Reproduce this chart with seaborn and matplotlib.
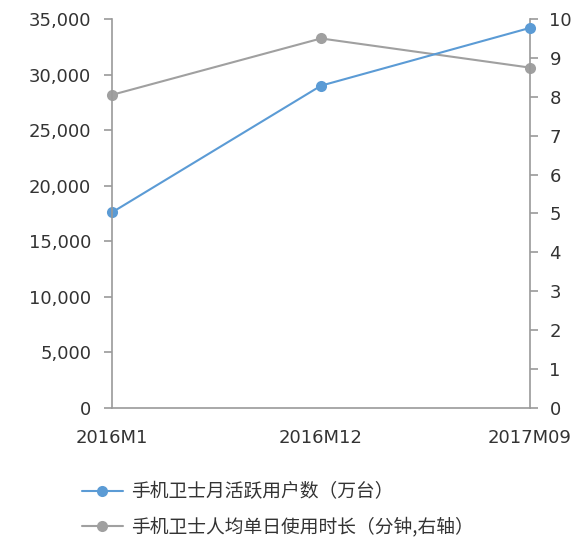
import matplotlib
matplotlib.use("Agg")
import matplotlib.pyplot as plt
import seaborn as sns
import pandas as pd
from matplotlib.ticker import FuncFormatter, MultipleLocator

# Data
periods = ["2016M1", "2016M12", "2017M09"]
active_users = [17600, 29000, 34200]      # 万台
daily_minutes = [8.05, 9.5, 8.75]         # 分钟
label_users = "手机卫士月活跃用户数（万台）"
label_minutes = "手机卫士人均单日使用时长（分钟,右轴）"

BLUE = "#5B9BD5"
GRAY = "#A0A0A0"
SPINE = "#9A9A9A"
TEXT = "#333333"

sns.set_theme(style="white")
plt.rcParams["font.family"] = ["Noto Sans CJK SC", "DejaVu Sans"]

df = pd.DataFrame({"pos": range(len(periods)), "period": periods,
                   "users": active_users, "minutes": daily_minutes})

W, H = 577, 541
fig = plt.figure(figsize=(W / 100, H / 100), dpi=100)
ax = fig.add_axes([112 / W, 1 - 408 / H, (530 - 112) / W, (408 - 19) / H])
ax2 = ax.twinx()

sns.lineplot(data=df, x="pos", y="users", ax=ax, color=BLUE, linewidth=1.5,
             marker="o", markersize=8, markeredgewidth=0, label=label_users,
             legend=False)
sns.lineplot(data=df, x="pos", y="minutes", ax=ax2, color=GRAY, linewidth=1.5,
             marker="o", markersize=8, markeredgewidth=0, label=label_minutes,
             legend=False)
for ln in ax.lines + ax2.lines:
    ln.set_clip_on(False)
ax.set_zorder(ax2.get_zorder() + 1)
ax.patch.set_visible(False)

ax.set_xlim(0, len(periods) - 1)
ax.set_ylim(0, 35000)
ax2.set_ylim(0, 10)
ax.yaxis.set_major_locator(MultipleLocator(5000))
ax2.yaxis.set_major_locator(MultipleLocator(1))
ax.yaxis.set_major_formatter(FuncFormatter(lambda v, p: f"{int(v):,}"))
ax.set_xticks(df["pos"])
ax.set_xticklabels(periods)
ax.set_xlabel("")
ax.set_ylabel("")
ax2.set_ylabel("")

for a in (ax, ax2):
    for s in a.spines.values():
        s.set_visible(False)
for name in ("left", "bottom"):
    ax.spines[name].set_visible(True)
    ax.spines[name].set_color(SPINE)
    ax.spines[name].set_linewidth(1.2)
ax2.spines["right"].set_visible(True)
ax2.spines["right"].set_color(SPINE)
ax2.spines["right"].set_linewidth(1.2)

tick_font = {"family": "DejaVu Sans", "size": 13}
ax.tick_params(axis="y", length=6, width=1.2, color=SPINE, pad=9,
               labelcolor=TEXT, left=True)
ax.tick_params(axis="x", length=0, pad=15, labelcolor=TEXT)
ax2.tick_params(axis="y", length=6, width=1.2, color=SPINE, pad=8,
                labelcolor=TEXT, right=True)
for lbl in ax.get_yticklabels() + ax.get_xticklabels() + ax2.get_yticklabels():
    lbl.set_fontfamily(tick_font["family"])
    lbl.set_fontsize(tick_font["size"])

handles = ax.lines[:1] + ax2.lines[:1]
leg = fig.legend(handles, [label_users, label_minutes],
                 loc="upper left", bbox_to_anchor=(74 / W, 1 - 474 / H),
                 frameon=False, fontsize=13.5, handlelength=2.2,
                 handletextpad=0.45, labelspacing=0.75, borderaxespad=0)
for t in leg.get_texts():
    t.set_color(TEXT)

fig.savefig("out.png", dpi=100)
